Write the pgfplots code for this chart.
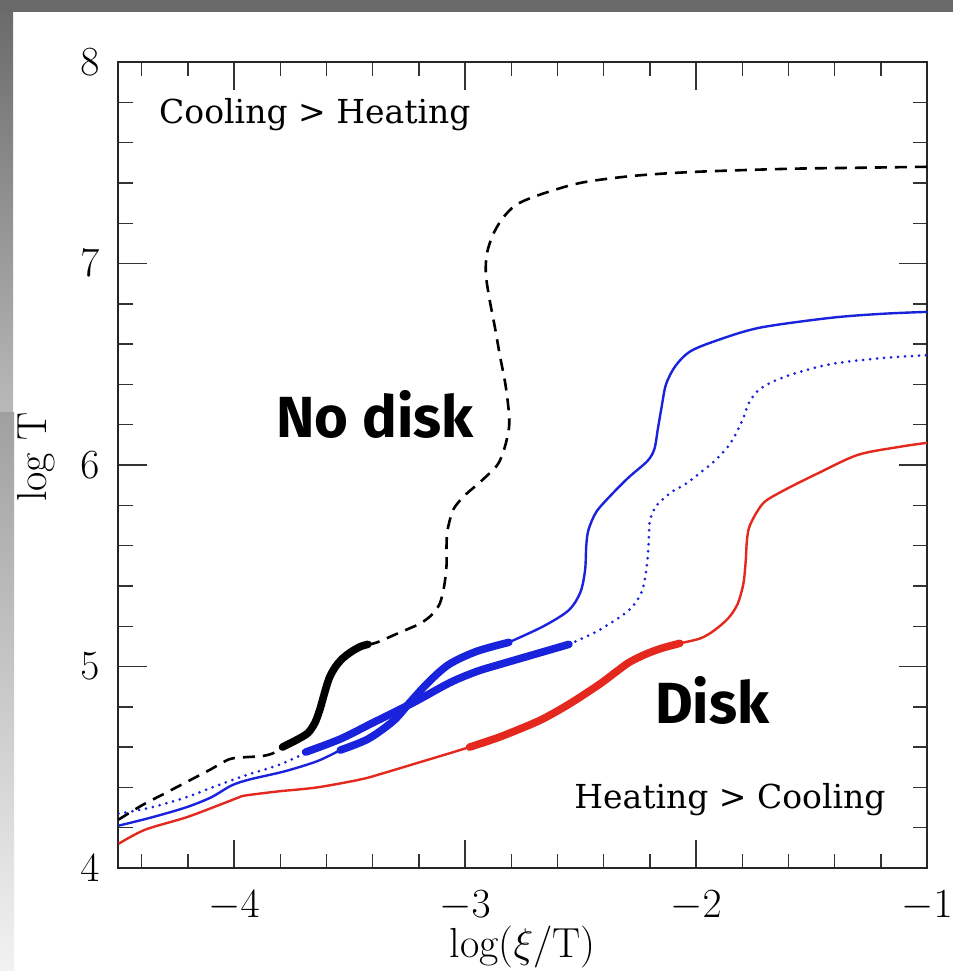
\documentclass[border=0pt]{standalone}
\usepackage{fontspec}
\usepackage{pgfplots}
\pgfplotsset{compat=1.18}
\newfontfamily\notefont{DejaVu Serif}
\newfontfamily\diskfont{Fira Sans}
\definecolor{cblue}{RGB}{25,35,220}
\definecolor{cred}{RGB}{228,40,30}
\definecolor{frameA}{RGB}{105,105,105}
\definecolor{frameB}{RGB}{185,185,185}
\definecolor{frameC}{RGB}{160,160,160}
\definecolor{frameD}{RGB}{242,242,242}
\begin{document}
\begin{tikzpicture}
\useasboundingbox (0,0) rectangle (476.5pt,485.5pt);
\fill[white] (0,0) rectangle (476.5pt,485.5pt);
\shade[top color=frameA, bottom color=frameB] (0,279pt) rectangle (6.5pt,485.5pt);
\shade[top color=frameC, bottom color=frameD] (0,0) rectangle (7pt,279pt);
\fill[frameA] (0,479.5pt) rectangle (476.5pt,485.5pt);
\begin{axis}[
  scale only axis, width=404.25pt, height=403pt,
  at={(59.25pt,51.5pt)}, anchor=south west,
  xmin=-4.5, xmax=-1, ymin=4, ymax=8,
  xtick={-4,-3,-2,-1}, ytick={4,5,6,7,8},
  minor xtick={-4.4,-4.2,-3.8,-3.6,-3.4,-3.2,-2.8,-2.6,-2.4,-2.2,-1.8,-1.6,-1.4,-1.2},
  minor ytick={4.2,4.4,4.6,4.8,5.2,5.4,5.6,5.8,6.2,6.4,6.6,6.8,7.2,7.4,7.6,7.8},
  tick align=inside, xtick pos=both, ytick pos=both,
  major tick length=14pt, minor tick length=7pt,
  axis line style={line width=1pt, black!85},
  every tick/.style={black!80, line width=0.7pt},
  ticklabel style={font=\fontsize{21}{25}\selectfont},
  xticklabel style={yshift=-8pt},
  yticklabel style={xshift=-6pt},
  xlabel={log($\xi$/T)},
  ylabel={log T},
  label style={font=\fontsize{21}{25}\selectfont},
  xlabel style={at={(axis description cs:0.5,-0.098)}, anchor=center},
  ylabel style={at={(axis description cs:-0.102,0.51)}, anchor=center},
  clip=true,
]
% black dashed, part 1
\addplot[black, line width=1.3pt, dash pattern=on 6pt off 4pt, smooth, tension=0.5] coordinates {
(-4.5,4.24) (-4.4,4.31) (-4.3,4.37) (-4.2,4.43) (-4.1,4.49) (-4.02,4.54) (-3.95,4.55) (-3.88,4.555) (-3.83,4.57) (-3.79,4.60)};
% black dashed, part 2
\addplot[black, line width=1.3pt, dash pattern=on 6pt off 4pt, smooth, tension=0.5] coordinates {
(-3.42,5.11) (-3.38,5.12) (-3.28,5.17) (-3.2,5.21) (-3.15,5.25) (-3.11,5.31) (-3.09,5.40) (-3.08,5.50) (-3.08,5.60) (-3.075,5.68) (-3.05,5.78) (-3.00,5.85) (-2.93,5.92) (-2.86,6.00) (-2.83,6.08) (-2.81,6.18) (-2.81,6.26) (-2.825,6.40) (-2.85,6.55) (-2.87,6.68) (-2.895,6.83) (-2.91,6.95) (-2.905,7.05) (-2.88,7.14) (-2.84,7.22) (-2.78,7.29) (-2.68,7.34) (-2.5,7.40) (-2.27,7.435) (-2.0,7.455) (-1.6,7.47) (-1.3,7.475) (-1.0,7.48)};
% blue dotted
\addplot[cblue, line width=1.5pt, line cap=round, dash pattern=on 0pt off 3.5pt, smooth, tension=0.5] coordinates {
(-4.5,4.27) (-4.36,4.30) (-4.21,4.35) (-4.07,4.41) (-3.95,4.46) (-3.81,4.51) (-3.69,4.57)};
\addplot[cblue, line width=1.5pt, line cap=round, dash pattern=on 0pt off 3.5pt, smooth, tension=0.5] coordinates {
(-2.55,5.11) (-2.42,5.18) (-2.29,5.28) (-2.235,5.37) (-2.215,5.48) (-2.205,5.60) (-2.20,5.72) (-2.17,5.80) (-2.10,5.87) (-2.04,5.91) (-1.92,6.02) (-1.85,6.11) (-1.80,6.22) (-1.77,6.31) (-1.72,6.38) (-1.61,6.44) (-1.42,6.50) (-1.2,6.53) (-1.0,6.545)};
% blue solid thin
\addplot[cblue, line width=1.2pt, smooth, tension=0.5] coordinates {
(-4.5,4.21) (-4.36,4.25) (-4.21,4.30) (-4.10,4.35) (-4.01,4.41) (-3.93,4.44) (-3.78,4.48) (-3.64,4.53) (-3.54,4.585)};
\addplot[cblue, line width=1.2pt, smooth, tension=0.5] coordinates {
(-2.81,5.12) (-2.66,5.20) (-2.55,5.28) (-2.50,5.37) (-2.48,5.48) (-2.475,5.60) (-2.465,5.68) (-2.43,5.77) (-2.36,5.86) (-2.29,5.94) (-2.21,6.02) (-2.18,6.08) (-2.165,6.18) (-2.15,6.28) (-2.13,6.40) (-2.09,6.49) (-2.03,6.56) (-1.93,6.61) (-1.73,6.68) (-1.42,6.73) (-1.2,6.75) (-1.0,6.76)};
% red thin
\addplot[cred, line width=1.2pt, smooth, tension=0.5] coordinates {
(-4.5,4.12) (-4.385,4.19) (-4.21,4.25) (-4.07,4.31) (-3.98,4.35) (-3.95,4.36) (-3.81,4.38) (-3.64,4.40) (-3.45,4.44) (-3.355,4.47) (-3.21,4.52) (-3.065,4.57) (-2.98,4.60)};
\addplot[cred, line width=1.2pt, smooth, tension=0.5] coordinates {
(-2.07,5.115) (-1.98,5.14) (-1.92,5.18) (-1.86,5.24) (-1.82,5.31) (-1.795,5.41) (-1.785,5.52) (-1.78,5.62) (-1.77,5.69) (-1.74,5.76) (-1.70,5.82) (-1.61,5.88) (-1.47,5.96) (-1.30,6.05) (-1.12,6.09) (-1.0,6.11)};
% thick segments
\addplot[black, line width=3.8pt, line cap=round, smooth, tension=0.5] coordinates {
(-3.79,4.60) (-3.73,4.635) (-3.68,4.67) (-3.65,4.72) (-3.63,4.78) (-3.615,4.84) (-3.60,4.90) (-3.585,4.95) (-3.56,5.00) (-3.53,5.04) (-3.49,5.075) (-3.45,5.10) (-3.42,5.11)};
\addplot[cblue, line width=3.8pt, line cap=round, smooth, tension=0.5] coordinates {
(-3.69,4.575) (-3.54,4.64) (-3.40,4.72) (-3.225,4.82) (-3.065,4.92) (-2.95,4.975) (-2.85,5.01) (-2.70,5.06) (-2.55,5.11)};
\addplot[cblue, line width=3.8pt, line cap=round, smooth, tension=0.5] coordinates {
(-3.54,4.585) (-3.42,4.64) (-3.31,4.73) (-3.24,4.82) (-3.16,4.92) (-3.07,5.01) (-2.95,5.075) (-2.81,5.12)};
\addplot[cred, line width=3.8pt, line cap=round, smooth, tension=0.5] coordinates {
(-2.98,4.60) (-2.85,4.65) (-2.70,4.72) (-2.63,4.76) (-2.54,4.82) (-2.42,4.91) (-2.35,4.97) (-2.29,5.02) (-2.22,5.06) (-2.15,5.09) (-2.07,5.115)};
% annotations
\node[font=\notefont\fontsize{16.5}{20}\selectfont] at (axis cs:-3.65,7.74) {Cooling > Heating};
\node[font=\notefont\fontsize{16.5}{20}\selectfont] at (axis cs:-1.853,4.337) {Heating > Cooling};
\node[font=\diskfont\bfseries\fontsize{29}{34}\selectfont] at (axis cs:-3.39,6.25) {No disk};
\node[font=\diskfont\bfseries\fontsize{29}{34}\selectfont] at (axis cs:-1.93,4.83) {Disk};
\end{axis}
\end{tikzpicture}
\end{document}
